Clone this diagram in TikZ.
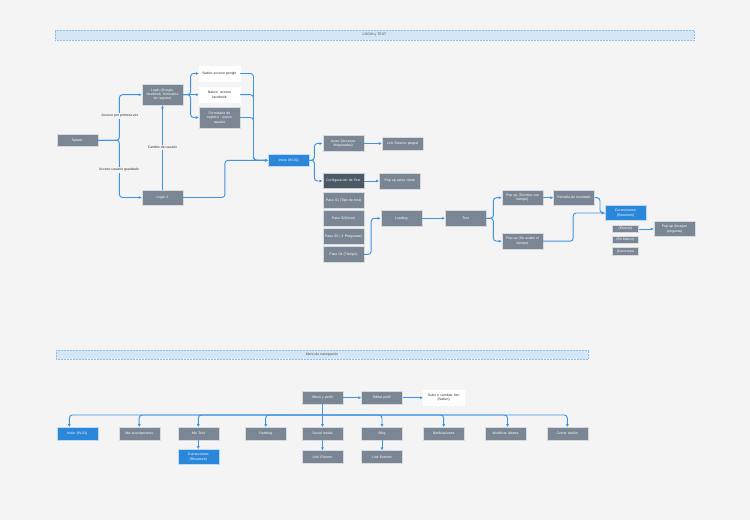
\documentclass[tikz,border=0pt]{standalone}
\usepackage{fontspec}
\setmainfont{Liberation Sans}
\usetikzlibrary{calc,positioning,arrows.meta}
\definecolor{FondoGris}{HTML}{F4F4F4}
\definecolor{CajaGris}{HTML}{7A8693}
\definecolor{CajaOscura}{HTML}{4B5866}
\definecolor{CajaAzul}{HTML}{2B87DA}
\definecolor{FlechaAzul}{HTML}{3F93E2}
\definecolor{BandaAzul}{HTML}{D5E6F6}
\definecolor{BandaBorde}{HTML}{8FBCE8}

\tikzset{
  caja/.style={
    fill=CajaGris,
    draw=white!70!CajaGris,
    line width=0.4pt,
    text=white,
    minimum width=41pt,
    minimum height=12.7pt,
    inner sep=1pt,
    text width=39pt,
    align=center,
    font=\fontsize{3.5}{4.3}\selectfont
  },
  cajaalta/.style={caja, minimum height=15.3pt},
  cajaazul/.style={caja, fill=CajaAzul, draw=white!70!CajaAzul},
  cajaoscura/.style={caja, fill=CajaOscura, draw=white!70!CajaOscura},
  cajablanca/.style={caja, fill=white, draw=white, text=black!80},
  cajachica/.style={caja, minimum width=25.6pt, text width=24pt, minimum height=7.3pt},
  banda/.style={
    fill=BandaAzul,
    draw=BandaBorde,
    densely dotted,
    line width=0.5pt,
    minimum height=10pt,
    inner sep=0pt,
    text=black!70,
    font=\fontsize{3.5}{4.3}\selectfont
  },
  flecha/.style={draw=FlechaAzul, line width=0.95pt, rounded corners=3pt, -{Latex[length=3pt,width=3pt]}},
  etiqueta/.style={fill=FondoGris, text=black!80, inner sep=1pt, font=\fontsize{3.5}{4.3}\selectfont}
}

\begin{document}
\begin{tikzpicture}[x=1pt,y=-1pt]
  \fill[FondoGris] (0,0) rectangle (750,520);

  % LOGIN y TEST
  \node[banda, minimum width=639pt] (banlogin) at (374.5,35) {LOGIN y TEST};

  \node[caja] (splash) at (77.2,140.3) {Splash};
  \node[caja, minimum height=21pt] (login) at (162.5,94.7) {Login (Google,\\ facebook, formulario\\ de registro)};
  \node[cajaalta] (login2) at (162.5,197.5) {Login 2};
  \node[cajablanca, minimum height=15pt] (nativogoogle) at (219.5,73.5) {Nativo acceso google};
  \node[cajablanca, minimum height=15pt] (nativofb) at (219.5,94.7) {Nativo\ \ acceso\\ facebook};
  \node[caja, minimum height=21pt] (formulario) at (219.5,117.5) {Formulario de\\ registro - nuevo\\ usuario};
  \node[cajaazul] (inicio) at (288.7,160.3) {Inicio (IN-01)};

  \node[cajaalta, minimum height=15.7pt] (aviso) at (343.2,143.5) {Aviso (Accesos\\ bloqueados)};
  \node[caja] (paypal) at (402.5,143.5) {Link Externo paypal};
  \node[cajaoscura, minimum height=15.3pt] (config) at (343.2,181) {Configuraci\'on de Test};
  \node[cajaalta, minimum height=15.7pt] (avisocierre) at (399.8,181) {Pop up aviso cierre};
  \node[cajaalta] (paso1) at (343.5,200.3) {Paso 01 (Tipo de test)};
  \node[cajaalta] (paso2) at (343.5,218.3) {Paso 02(Nivel)};
  \node[cajaalta] (paso3) at (343.5,236.3) {Paso 03 ( 4 Preguntas)};
  \node[cajaalta] (paso4) at (343.5,254.3) {Paso 04 (Tiempo)};
  \node[cajaalta] (loading) at (401.3,218.3) {Loading};
  \node[cajaalta] (test) at (465.7,218.3) {Test};
  \node[cajaalta] (popterm) at (522.5,197.7) {Pop up (Termina con\\ tiempo)};
  \node[cajaalta] (popacabo) at (522.5,241.2) {Pop up (Se acabo el\\ tiempo)};
  \node[cajaalta] (pantalla) at (574,197.7) {Pantalla de resultado};
  \node[cajaazul, minimum height=15.3pt] (correcciones) at (625.5,213) {Correcciones\\ (Resumen)};
  \node[cajachica] (errores) at (625.5,229) {(Errores)};
  \node[cajachica] (blanco) at (625.5,240) {(En blanco)};
  \node[cajachica] (correctas) at (625.5,251.3) {(Correctas)};
  \node[cajaalta] (popimagen) at (674.5,229) {Pop up (Imagen\\ pregunta)};

  \draw[flecha] (splash.east) -- ++(21.5,0) |- (login.west);
  \draw[flecha] (splash.east) -- ++(21.5,0) |- (login2.west);
  \node[etiqueta] (lblprimera) at (120,116) {Acceso por primera vez};
  \node[etiqueta] (lblguardado) at (119,170) {Acceso usuario guardado};
  \draw[flecha] (login2.north) -- (login.south) node[etiqueta, midway] (lblcambio) {Cambio de usuario};

  \draw[flecha] (login.east) -- ++(7.4,0) |- (nativogoogle.west);
  \draw[flecha] (login.east) -- (nativofb.west);
  \draw[flecha] (login.east) -- ++(7.4,0) |- (formulario.west);

  \draw[flecha] (nativogoogle.east) -- ++(13.3,0) |- (inicio.west);
  \draw[flecha] (nativofb.east) -- ++(13.3,0) |- (inicio.west);
  \draw[flecha] (formulario.east) -- ++(13.3,0) |- (inicio.west);
  \draw[flecha] (login2.east) -- ++(41.7,0) |- (inicio.west);

  \draw[flecha] (inicio.east) -- ++(5,0) |- (aviso.west);
  \draw[flecha] (inicio.east) -- ++(5,0) |- (config.west);
  \draw[flecha] (aviso.east) -- (paypal.west);
  \draw[flecha] (config.east) -- (avisocierre.west);
  \draw[flecha] (paso4.east) -- ++(7,0) |- (loading.west);
  \draw[flecha] (loading.east) -- (test.west);
  \draw[flecha] (test.east) -- ++(7,0) |- (popterm.west);
  \draw[flecha] (test.east) -- ++(7,0) |- (popacabo.west);
  \draw[flecha] (popterm.east) -- (pantalla.west);
  \draw[flecha] (pantalla.east) -- ++(5.3,0) |- (correcciones.west);
  \draw[flecha] (popacabo.east) -- ++(30,0) |- (correcciones.west);
  \draw[flecha] (errores.east) -- (popimagen.west);

  % Menu de navegacion
  \node[banda, minimum width=532pt, minimum height=9.5pt] (banmenu) at (322,354.5) {Men\'u de navegaci\'on};

  \node[caja] (menu) at (322.5,397.7) {Men\'u y perfil};
  \node[caja] (editar) at (382,397.7) {Editar perfil};
  \node[cajablanca, minimum height=15.3pt] (foto) at (443.7,397.7) {Subir o cambiar foto\\ (Nativo)};

  \node[cajaazul] (inicio2) at (77.3,433.7) {Inicio (IN-01)};
  \node[caja] (suscripciones) at (139.2,433.7) {Mis suscripciones};
  \node[caja] (mistest) at (198.3,433.7) {Mis Test};
  \node[caja] (ranking) at (265.7,433.7) {Ranking};
  \node[caja] (social) at (322.5,433.7) {Social media};
  \node[caja] (blog) at (382,433.7) {Blog};
  \node[caja] (notificaciones) at (443.7,433.7) {Notificaciones};
  \node[caja] (idioma) at (505.5,433.7) {Modificar idioma};
  \node[caja] (cerrar) at (567.3,433.7) {Cerrar sesi\'on};
  \node[cajaazul, minimum height=15.3pt] (correcciones2) at (198.3,457) {Correcciones\\ (Resumen)};
  \node[caja] (linksocial) at (322.5,457) {Link Externo};
  \node[caja] (linkblog) at (382,457) {Link Externo};

  \coordinate (bus) at (322.5,415);

  \draw[flecha] (menu.east) -- (editar.west);
  \draw[flecha] (editar.east) -- (foto.west);
  \draw[flecha] (menu.south) -- (social.north);
  \draw[flecha] (bus) -| ([xshift=-8pt]inicio2.north);
  \draw[flecha] (bus) -| (suscripciones.north);
  \draw[flecha] (bus) -| (mistest.north);
  \draw[flecha] (bus) -| (ranking.north);
  \draw[flecha] (bus) -| (blog.north);
  \draw[flecha] (bus) -| (notificaciones.north);
  \draw[flecha] (bus) -| ([xshift=2pt]idioma.north);
  \draw[flecha] (bus) -| (cerrar.north);
  \draw[flecha] (mistest.south) -- (correcciones2.north);
  \draw[flecha] (social.south) -- (linksocial.north);
  \draw[flecha] (blog.south) -- (linkblog.north);
\end{tikzpicture}
\end{document}
